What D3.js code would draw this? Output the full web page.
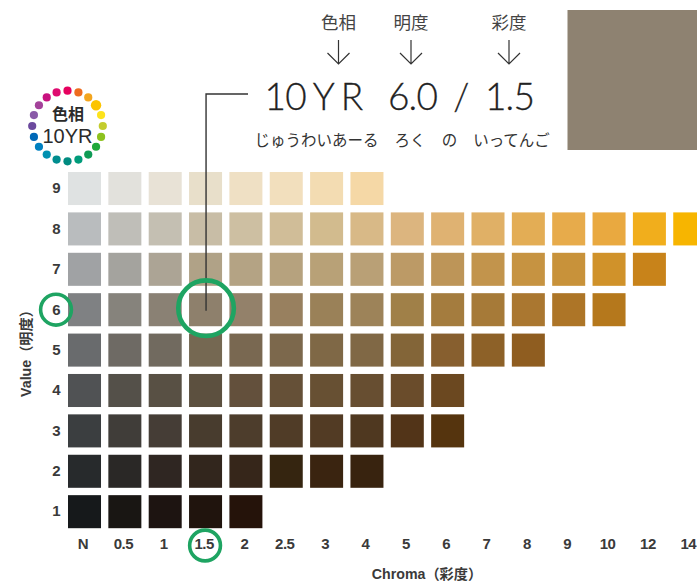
<!DOCTYPE html>
<html lang="ja">
<head>
<meta charset="utf-8">
<style>
  html, body { margin: 0; padding: 0; background: #fff; overflow: hidden; }
  svg { display: block; }
  .jp { font-family: "Noto Sans CJK JP", sans-serif; }
  .tick-label text { font-family: "Liberation Sans", sans-serif; font-weight: 700; fill: #3a3a3a; font-size: 15px; letter-spacing: -0.5px; }
  .lab { font-family: "Liberation Sans", "Noto Sans CJK JP", sans-serif; font-weight: 700; fill: #3a3a3a; font-size: 14.2px; }
  .big { font-family: "Lato", sans-serif; font-size: 37px; font-weight: 300; fill: #222; stroke: #222; stroke-width: 0.3px; letter-spacing: -0.8px; word-spacing: -1px; }
</style>
<script src="https://cdn.jsdelivr.net/npm/d3@7"></script>
</head>
<body>
<svg id="chart" width="697" height="582"></svg>
<script>
// chart values
const chromaLabels = ["N", "0.5", "1", "1.5", "2", "2.5", "3", "4", "5", "6", "7", "8", "9", "10", "12", "14"];
const valueLabels = ["9", "8", "7", "6", "5", "4", "3", "2", "1"];

// one list per value row, left to right along chroma
const value9 = ["#dfe2e2", "#e2e1dc", "#e8e2d6", "#e8dfca", "#efe0c4", "#f2dfbd", "#f3dcb2", "#f5d8a6"];
const value8 = ["#b9bcbe", "#bfbeb8", "#c4bfb2", "#c8bda6", "#cdbfa2", "#d0bd98", "#d2bb8e", "#d8b987", "#dcb57f", "#dfb272", "#e0b066", "#e3ad55", "#e7ab4b", "#e9a940", "#f1ae1c", "#f7b500"];
const value7 = ["#a0a2a4", "#a4a39e", "#aca495", "#b0a287", "#b4a384", "#b6a27e", "#b8a177", "#b9a076", "#bc9a66", "#bd9558", "#c2944c", "#c69341", "#c8923a", "#d0922a", "#c8831a"];
const value6 = ["#7f8183", "#86837c", "#8a8174", "#8e806c", "#93816a", "#98805f", "#9a8158", "#9d8359", "#a08048", "#a47c3e", "#a67a38", "#aa7730", "#ad7527", "#b5781c"];
const value5 = ["#696b6d", "#6e6a64", "#716a5f", "#756852", "#796851", "#7c684c", "#7f6846", "#806845", "#836538", "#875f2f", "#8d6128", "#8f5d20"];
const value4 = ["#505254", "#545049", "#585044", "#5c503f", "#63503c", "#655037", "#675033", "#674e31", "#6a4c2b", "#6b4820"];
const value3 = ["#3b3e40", "#403d39", "#453d36", "#483c2e", "#4d3d2c", "#503c27", "#523b24", "#4f3820", "#523418", "#55340e"];
const value2 = ["#272a2c", "#2a2826", "#2f2622", "#32261d", "#36261a", "#352510", "#3a2410", "#38230f"];
const value1 = ["#16191b", "#191613", "#1d1411", "#20140d", "#25130a"];
const rows = [value9, value8, value7, value6, value5, value4, value3, value2, value1];

// hue ring, clockwise from the top
const hueColors = ["#e6005f", "#ee6c1e", "#f3a51f", "#fcc400", "#fde31c", "#c3cc2d", "#8dc21f", "#1fa83c", "#0f9b55", "#009b7a",
  "#008b80", "#008d8f", "#0090b0", "#0080c0", "#0068b7", "#6c4a9e", "#8a5aa8", "#a3429a", "#c8127f", "#df0a70"];
const currentHue = "#fcc400";

const notation = [
  { head: "色相", reading: "じゅうわいあーる", text: "10 Y R" },
  { head: "明度", reading: "ろく", text: "6.0" },
  { head: "彩度", reading: "いってんご", text: "1.5" }
];

const svg = d3.select("#chart");
const green = "#1ea462";
const ink = "#2b2b2b";

const x = d3.scaleBand().domain(chromaLabels).range([68, 706.25]).paddingInner(0.182).paddingOuter(0);
const y = d3.scaleBand().domain(valueLabels).range([172, 528.2]).paddingInner(0.182).paddingOuter(0);

// CELLS
const rowG = svg.selectAll(".row")
    .data(rows)
    .enter().append("g")
    .attr("class", "row")
    .attr("transform", (d, i) => `translate(0,${y(valueLabels[i])})`);

rowG.selectAll("rect")
    .data(d => d)
    .enter().append("rect")
    .attr("x", (d, i) => x(chromaLabels[i]))
    .attr("width", x.bandwidth())
    .attr("height", y.bandwidth())
    .attr("fill", d => d);

// AXES
const xAxis = svg.append("g")
    .attr("class", "tick-label")
    .attr("transform", "translate(-1.5,538)")
    .call(d3.axisBottom(x).tickSize(0).tickPadding(0));
xAxis.select(".domain").remove();

const yAxis = svg.append("g")
    .attr("class", "tick-label")
    .attr("transform", "translate(60,0)")
    .call(d3.axisLeft(y).tickSize(0).tickPadding(0));
yAxis.select(".domain").remove();

svg.append("text")
    .attr("class", "lab")
    .attr("x", 427).attr("y", 579)
    .attr("text-anchor", "middle")
    .text("Chroma（彩度）");

svg.append("text")
    .attr("class", "lab")
    .attr("transform", "translate(31,350) rotate(-90)")
    .attr("text-anchor", "middle")
    .text("Value（明度）");

// LEADER LINE + MARKER RINGS
const col15 = x("1.5") + x.bandwidth() / 2;
const row6 = y("6") + y.bandwidth() / 2;

svg.append("path")
    .attr("d", d3.line()([[248, 94], [col15 + 0.5, 94], [col15 + 0.5, row6 + 1]]))
    .attr("fill", "none")
    .attr("stroke", "#333")
    .attr("stroke-width", 1.4);

svg.append("circle").attr("cx", col15 + 0.5).attr("cy", row6 - 1.5).attr("r", 27.8)
    .attr("fill", "none").attr("stroke", green).attr("stroke-width", 4.6);
svg.append("circle").attr("cx", 56).attr("cy", row6).attr("r", 15.4)
    .attr("fill", "none").attr("stroke", green).attr("stroke-width", 3.6);
svg.append("circle").attr("cx", col15 - 0.5).attr("cy", 545.5).attr("r", 15.4)
    .attr("fill", "none").attr("stroke", green).attr("stroke-width", 3.6);

// HUE RING
const ring = svg.append("g").attr("transform", "translate(67.5,126)");
const angle = d3.scaleLinear().domain([0, hueColors.length]).range([0, 2 * Math.PI]);

ring.selectAll("circle")
    .data(hueColors)
    .enter().append("circle")
    .attr("cx", (d, i) => 35.3 * Math.sin(angle(i)))
    .attr("cy", (d, i) => -35.3 * Math.cos(angle(i)))
    .attr("r", d => d === currentHue ? 5.2 : 4.1)
    .attr("fill", d => d);

ring.append("text")
    .attr("class", "jp")
    .attr("x", 0.5).attr("y", -10).attr("text-anchor", "middle").attr("dominant-baseline", "middle")
    .attr("fill", ink).style("font-size", "16px").style("font-weight", 700)
    .text("色相");
ring.append("text")
    .attr("y", 17).attr("text-anchor", "middle")
    .attr("fill", ink).style("font-family", "'Liberation Sans', sans-serif").style("font-size", "20px")
    .text("10YR");

// NOTATION
const heads = [338.5, 411, 509];
const bodies = [313.5, 412.5, 509.5];
const readings = [316.5, 410, 511.5];

notation.forEach((n, i) => {
    svg.append("text")
        .attr("class", "jp")
        .attr("x", heads[i]).attr("y", 29)
        .attr("text-anchor", "middle")
        .attr("fill", "#444")
        .style("font-size", "17.5px")
        .text(n.head);

    svg.append("path")
        .attr("d", `M${heads[i]},40V64M${heads[i] - 11},53L${heads[i]},64L${heads[i] + 11},53`)
        .attr("fill", "none")
        .attr("stroke", "#333")
        .attr("stroke-width", 1.2);

    svg.append("text")
        .attr("class", "big")
        .attr("x", bodies[i]).attr("y", 110)
        .attr("text-anchor", "middle")
        .text(n.text);

    svg.append("text")
        .attr("class", "jp")
        .attr("x", readings[i]).attr("y", 146)
        .attr("text-anchor", "middle")
        .attr("fill", "#333")
        .style("font-size", "15.5px")
        .text(n.reading);
});

svg.append("text")
    .attr("class", "big")
    .attr("x", 461).attr("y", 110)
    .attr("text-anchor", "middle")
    .text("/");

svg.append("text")
    .attr("class", "jp")
    .attr("x", 449.5).attr("y", 146)
    .attr("text-anchor", "middle")
    .attr("fill", "#333")
    .style("font-size", "15.5px")
    .text("の");

// SAMPLE SWATCH
svg.append("rect")
    .attr("x", 567.5).attr("y", 10)
    .attr("width", 129.5).attr("height", 140)
    .attr("fill", "#8e8271");
</script>
</body>
</html>
